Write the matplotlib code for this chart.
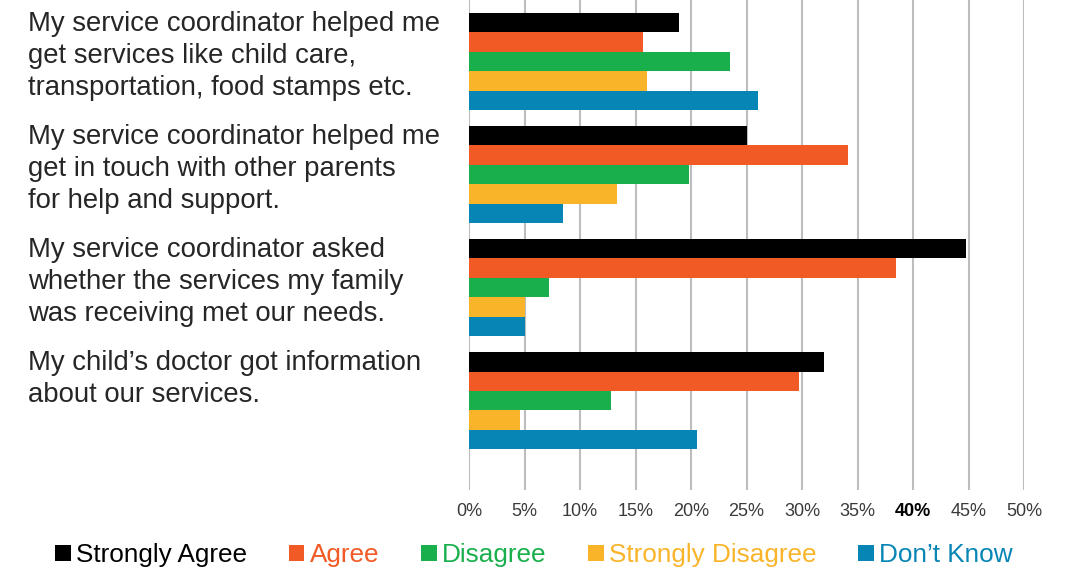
import matplotlib.pyplot as plt
import matplotlib.transforms as mtransforms
from matplotlib.patches import Patch
import numpy as np

# survey statements (left labels)
statements = [
    "My service coordinator helped me\nget services like child care,\ntransportation, food stamps etc.",
    "My service coordinator helped me\nget in touch with other parents\nfor help and support.",
    "My service coordinator asked\nwhether the services my family\nwas receiving met our needs.",
    "My child\u2019s doctor got information\nabout our services.",
]
series_names = ["Strongly Agree", "Agree", "Disagree", "Strongly Disagree", "Don\u2019t Know"]
strongly_agree = [18.9, 25.0, 44.8, 32.0]
agree = [15.7, 34.1, 38.5, 29.7]
disagree = [23.5, 19.8, 7.2, 12.8]
strongly_disagree = [16.0, 13.3, 5.0, 4.6]
dont_know = [26.0, 8.5, 5.0, 20.5]
tick_values = [0, 5, 10, 15, 20, 25, 30, 35, 40, 45, 50]

colors = ["#000000", "#F15A24", "#1AAF4D", "#F9B42A", "#0785B5"]

plt.rcParams['font.family'] = ['Liberation Sans', 'DejaVu Sans']

fig = plt.figure(figsize=(10.68, 5.69), dpi=100)
ax = fig.add_axes([469 / 1068, 1 - 490 / 569, 555 / 1068, 490 / 569])

all_series = [strongly_agree, agree, disagree, strongly_disagree, dont_know]
y = np.arange(len(statements))
h = 0.172
for i, vals in enumerate(all_series):
    ax.barh(y + (i - 2) * h, [v / 100 for v in vals], height=h,
            color=colors[i], zorder=3)

ax.set_xlim(0, 0.5)
ax.set_ylim(3.79, -0.544)
ax.set_xticks([t / 100 for t in tick_values])
ax.set_xticklabels([f"{t}%" for t in tick_values], fontsize=13, color="#3a3a3a")
for lbl in ax.get_xticklabels():
    if lbl.get_text() == "40%":
        lbl.set_color("black")
        lbl.set_fontweight("bold")
ax.tick_params(axis='x', length=0, pad=9)
ax.set_yticks([])
ax.grid(axis='x', color="#BDBDBD", linewidth=1.5, zorder=0)
for s in ax.spines.values():
    s.set_visible(False)

# statements as left text, top aligned with each group
trans = mtransforms.blended_transform_factory(fig.transFigure, ax.transData)
for i, txt in enumerate(statements):
    ax.text(28 / 1068, i - 2.5 * h - 0.02, txt, transform=trans, ha='left', va='top',
            fontsize=19.8, color="#262626", linespacing=1.3)

handles = [Patch(facecolor=c, edgecolor='none') for c in colors]
fig.legend(handles, series_names, loc='center', bbox_to_anchor=(0.5, 1 - 555 / 569),
           ncol=5, frameon=False, fontsize=18.8, handlelength=0.6, handleheight=0.6,
           handletextpad=0.2, columnspacing=1.6, labelcolor=colors)

fig.savefig("out.png", dpi=100)
